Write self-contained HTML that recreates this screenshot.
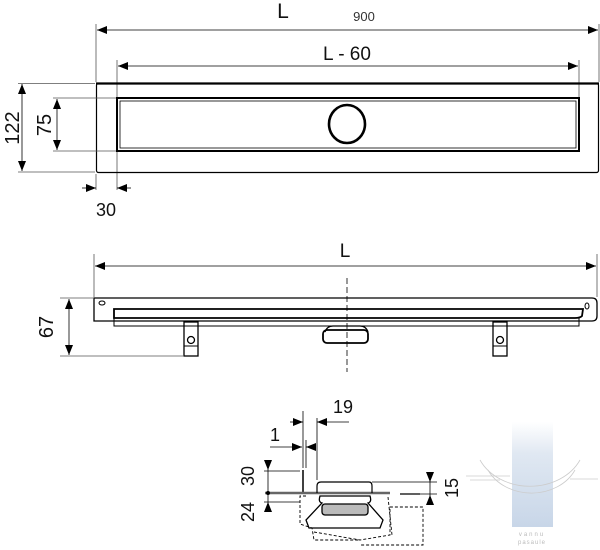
<!DOCTYPE html>
<html><head><style>
html,body{margin:0;padding:0;background:#fff;}
svg{display:block;}
text{font-family:"Liberation Sans",sans-serif;fill:#111;}
</style></head><body>
<svg width="600" height="550" viewBox="0 0 600 550" xmlns="http://www.w3.org/2000/svg">
<defs>
<marker id="a" viewBox="0 0 10 10" refX="10" refY="5" markerWidth="12" markerHeight="10" orient="auto-start-reverse" markerUnits="userSpaceOnUse"><path d="M0,1 L10,5 L0,9 z" fill="#000"/></marker>
<linearGradient id="g" x1="0" y1="0" x2="0" y2="1"><stop offset="0" stop-color="#fff"/><stop offset="0.3" stop-color="#e0e8f2"/><stop offset="1" stop-color="#c8d6e8"/></linearGradient>
</defs>
<g stroke="#000" fill="none">
<line x1="96" y1="24" x2="96" y2="82" stroke-width="0.8" stroke="#555"/>
<line x1="599" y1="24" x2="599" y2="82" stroke-width="0.8" stroke="#555"/>
<line x1="97" y1="30" x2="598" y2="30" stroke-width="0.8" marker-start="url(#a)" marker-end="url(#a)"/>
<line x1="117" y1="60" x2="117" y2="190" stroke-width="0.8" stroke="#555"/>
<line x1="579" y1="60" x2="579" y2="97" stroke-width="0.8" stroke="#555"/>
<line x1="118" y1="66" x2="578" y2="66" stroke-width="0.8" marker-start="url(#a)" marker-end="url(#a)"/>
<rect x="96.5" y="83.5" width="502" height="89" rx="2" stroke-width="1.2"/>
<line x1="96" y1="83.5" x2="599" y2="83.5" stroke-width="2.2"/>
<rect x="117" y="98" width="462" height="53" stroke-width="2"/>
<rect x="120" y="101" width="456" height="47" stroke-width="0.8"/>
<ellipse cx="347" cy="124" rx="18" ry="19" stroke-width="2.6"/>
<line x1="18" y1="83.5" x2="95" y2="83.5" stroke-width="0.8" stroke="#555"/>
<line x1="18" y1="172" x2="95" y2="172" stroke-width="0.8" stroke="#555"/>
<line x1="22" y1="84" x2="22" y2="171" stroke-width="0.8" marker-start="url(#a)" marker-end="url(#a)"/>
<line x1="53" y1="98" x2="116" y2="98" stroke-width="0.8" stroke="#555"/>
<line x1="53" y1="151" x2="116" y2="151" stroke-width="0.8" stroke="#555"/>
<line x1="57" y1="99" x2="57" y2="150" stroke-width="0.8" marker-start="url(#a)" marker-end="url(#a)"/>
<line x1="96" y1="174" x2="96" y2="190" stroke-width="0.8" stroke="#555"/>
<line x1="82" y1="188" x2="96" y2="188" stroke-width="0.8" marker-end="url(#a)"/>
<line x1="131" y1="188" x2="117" y2="188" stroke-width="0.8" marker-end="url(#a)"/>

<line x1="94" y1="254" x2="94" y2="297" stroke-width="0.8" stroke="#555"/>
<line x1="597" y1="254" x2="597" y2="297" stroke-width="0.8" stroke="#555"/>
<line x1="95" y1="266" x2="596" y2="266" stroke-width="0.8" marker-start="url(#a)" marker-end="url(#a)"/>
<line x1="347" y1="278" x2="347" y2="372" stroke-width="0.8" stroke-dasharray="6,3"/>
<path d="M94,298 H592 Q597,298 597,303 V316 Q597,321 592,321 H94 Z" stroke-width="1.3"/>
<path d="M114,309 H583 L582,316 Q580,318 575,318 H114 Z" stroke-width="1.8"/>
<rect x="114" y="318" width="465" height="8" stroke-width="1"/>
<ellipse cx="102" cy="303" rx="3" ry="2" stroke-width="1"/>
<ellipse cx="587" cy="306" rx="2" ry="3" stroke-width="1"/>
<path d="M325,332 Q327,326 333,326 H360 Q366,326 368,332" stroke-width="1.3"/>
<rect x="323" y="330" width="45" height="13" rx="4" stroke-width="1.8"/>
<rect x="184" y="322" width="14" height="34" stroke-width="1.3"/>
<line x1="184" y1="346" x2="198" y2="346" stroke-width="1"/>
<circle cx="191" cy="340" r="3.5" stroke-width="1.3"/>
<rect x="493" y="322" width="14" height="34" stroke-width="1.3"/>
<line x1="493" y1="346" x2="507" y2="346" stroke-width="1"/>
<circle cx="500" cy="340" r="3.5" stroke-width="1.3"/>
<line x1="60" y1="298" x2="93" y2="298" stroke-width="0.8" stroke="#555"/>
<line x1="60" y1="356" x2="183" y2="356" stroke-width="0.8" stroke="#555"/>
<line x1="69" y1="299" x2="69" y2="355" stroke-width="0.8" marker-start="url(#a)" marker-end="url(#a)"/>

<line x1="303" y1="411" x2="303" y2="468" stroke-width="0.8"/>
<line x1="317" y1="418" x2="317" y2="480" stroke-width="0.8"/>
<line x1="290" y1="422" x2="303" y2="422" stroke-width="0.8" marker-end="url(#a)"/>
<line x1="349" y1="422" x2="317" y2="422" stroke-width="0.8" marker-end="url(#a)"/>
<line x1="270" y1="447" x2="302" y2="447" stroke-width="0.8" marker-end="url(#a)"/>
<line x1="316" y1="447" x2="306" y2="447" stroke-width="0.8" marker-end="url(#a)"/>
<line x1="306" y1="440" x2="306" y2="468" stroke-width="0.8"/>
<path d="M303,470 V493 H390" stroke-width="1.5"/>
<line x1="265" y1="493" x2="390" y2="493" stroke="#666" stroke-width="2.5"/>
<line x1="400" y1="494" x2="420" y2="494" stroke-width="1.2"/>
<line x1="264" y1="471" x2="300" y2="471" stroke-width="0.8"/>
<line x1="264" y1="502" x2="300" y2="502" stroke-width="0.8"/>
<line x1="268" y1="460" x2="268" y2="510" stroke-width="0.8"/>
<path d="M264,460 H272 L268,470 Z M264,512 H272 L268,502 Z" fill="#000" stroke="none"/>
<circle cx="268" cy="493" r="2" fill="#000" stroke="none"/>
<path d="M317,493 V486 Q317,482 321,482 H369 Q372,482 372,486 V493" stroke-width="1.2"/>
<line x1="372" y1="482" x2="437" y2="482" stroke-width="0.8"/>
<line x1="420" y1="494" x2="437" y2="494" stroke-width="0.8"/>
<line x1="430" y1="472" x2="430" y2="505" stroke-width="0.8"/>
<path d="M426,472 H434 L430,482 Z M426,505 H434 L430,495 Z" fill="#000" stroke="none"/>
<path d="M320,496 Q318,502 322,503 L306,520 L309,528 H380 L383,520 L368,503 Q372,502 370,496 Z" stroke-width="1.3"/>
<rect x="322" y="504" width="46" height="11" rx="3" stroke-width="1.3" fill="#bbb"/>
<path d="M306,496 H300 V524 L312,528 L314,540 H360" stroke-width="0.9" stroke-dasharray="3,2"/>
<path d="M314,532 L360,540 L390,535 L390,507 L423,507 V545 H360" stroke-width="0.9" stroke-dasharray="3,2"/>
<path d="M388,497 L392,535" stroke-width="0.9" stroke-dasharray="3,2"/>
</g>
<rect x="512" y="422" width="41" height="105" fill="url(#g)"/>
<g stroke="#ccc" fill="none" stroke-width="0.8">
<path d="M480,460 A55,45 0 0 0 580,460"/>
<path d="M488,470 A48,40 0 0 0 575,470"/>
<line x1="466" y1="476" x2="510" y2="476"/>
<line x1="470" y1="480" x2="500" y2="480"/>
<line x1="570" y1="479" x2="598" y2="479"/>
</g>
<text x="532" y="536" font-size="6" text-anchor="middle" style="fill:#bbb;letter-spacing:2px">vannu</text>
<text x="532" y="544" font-size="6" text-anchor="middle" style="fill:#bbb;letter-spacing:1px">pasaule</text>
<text x="283" y="18" font-size="21" text-anchor="middle">L</text>
<text x="364" y="21" font-size="13" text-anchor="middle" style="fill:#333">900</text>
<text x="347" y="60" font-size="19" text-anchor="middle">L - 60</text>
<text x="106" y="216" font-size="18" text-anchor="middle">30</text>
<text transform="translate(19,128) rotate(-90)" font-size="20" text-anchor="middle">122</text>
<text transform="translate(51,125) rotate(-90)" font-size="20" text-anchor="middle">75</text>
<text x="345" y="257" font-size="19" text-anchor="middle">L</text>
<text transform="translate(53,327) rotate(-90)" font-size="20" text-anchor="middle">67</text>
<text x="343" y="413" font-size="18" text-anchor="middle">19</text>
<text x="275" y="441" font-size="18" text-anchor="middle">1</text>
<text transform="translate(254,476) rotate(-90)" font-size="18" text-anchor="middle">30</text>
<text transform="translate(254,512) rotate(-90)" font-size="18" text-anchor="middle">24</text>
<text transform="translate(458,488) rotate(-90)" font-size="18" text-anchor="middle">15</text>
</svg>
</body></html>
